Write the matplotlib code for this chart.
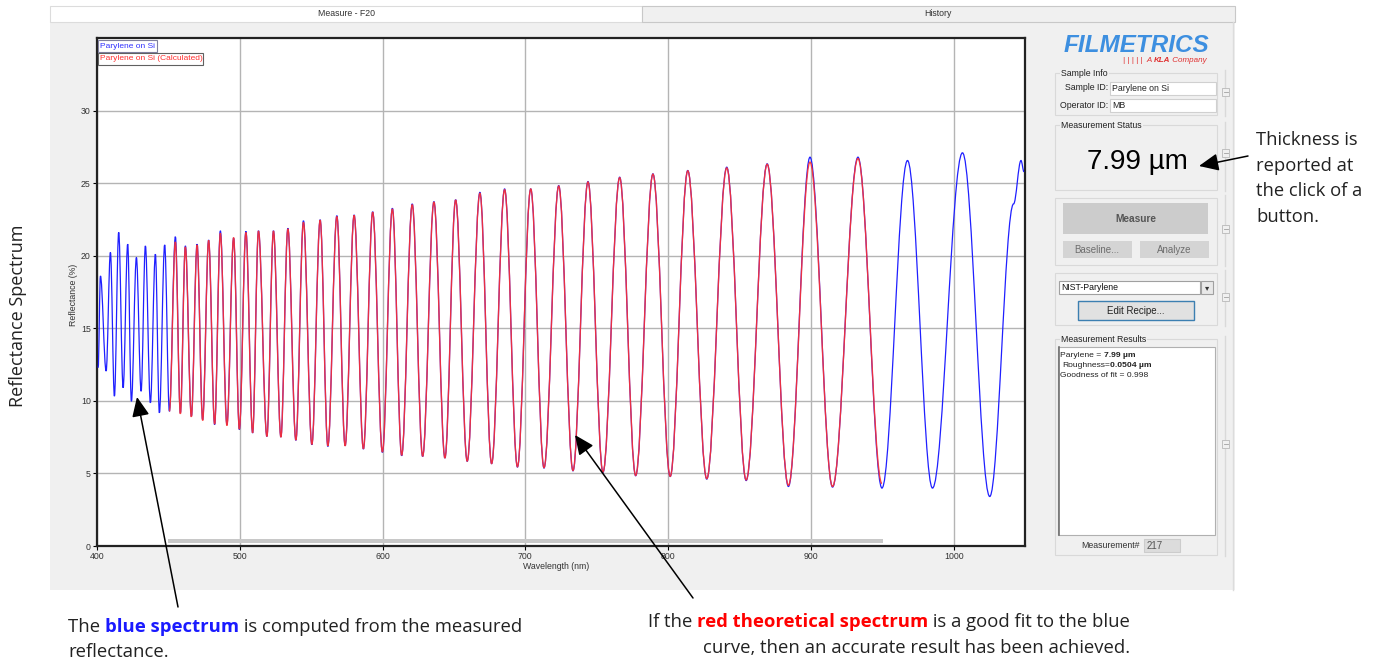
import matplotlib
matplotlib.use('Agg')
import matplotlib.pyplot as plt
from matplotlib.path import Path
from matplotlib.patches import PathPatch, Rectangle, FancyArrowPatch

# measured spectrum (peaks / valleys)
blue_wl = [400.8, 402.4, 406.4, 409.4, 412.2, 415.2, 418.3, 421.5, 424.1, 427.6,
           430.9, 433.9, 437.4, 440.9, 443.7, 447.4, 450.7, 454.9, 458.4, 461.9,
           466.1, 470.1, 474.0, 478.2, 482.4, 486.4, 491.0, 495.7, 499.7, 504.3,
           509.0, 513.1, 519.0, 523.6, 528.8, 533.7, 539.3, 544.6, 550.5, 556.3,
           561.7, 568.0, 573.8, 580.1, 586.6, 593.1, 599.9, 606.9, 613.4, 620.8,
           628.1, 636.0, 643.7, 651.2, 659.3, 668.2, 676.4, 685.5, 694.5, 703.8,
           713.1, 723.4, 733.4, 743.9, 754.4, 766.1, 777.3, 789.4, 801.5, 813.8,
           827.1, 841.1, 854.7, 869.4, 884.3, 899.4, 915.2, 933.0, 949.8, 967.7,
           985.2, 1006.2, 1025.3, 1042.0, 1047.2, 1049.3]
blue_R = [12.28, 18.61, 12.05, 20.23, 10.32, 21.61, 10.90, 20.80, 9.97, 19.88,
          10.66, 20.68, 9.86, 20.11, 9.17, 20.75, 9.28, 21.31, 9.17, 20.68,
          8.94, 20.80, 8.71, 21.08, 8.36, 21.72, 8.36, 21.22, 8.02, 21.68,
          7.79, 21.72, 7.55, 21.72, 7.51, 21.89, 7.28, 22.41, 6.98, 22.48,
          6.86, 22.76, 6.91, 22.81, 6.68, 23.03, 6.45, 23.27, 6.22, 23.57,
          6.17, 23.73, 6.06, 23.86, 5.83, 24.37, 5.67, 24.60, 5.44, 24.60,
          5.37, 24.83, 5.18, 25.11, 5.07, 25.41, 4.84, 25.64, 4.79, 25.87,
          4.61, 26.10, 4.51, 26.33, 4.10, 26.79, 4.06, 26.79, 3.99, 26.56,
          3.99, 27.09, 3.41, 23.57, 26.56, 25.78]

# calculated (fitted) spectrum
red_wl = [450.7, 454.9, 458.4, 461.9, 466.1, 470.1, 474.0, 478.2, 482.4, 486.4,
          491.0, 495.7, 499.7, 504.3, 509.0, 513.1, 519.0, 523.6, 528.8, 533.7,
          539.3, 544.6, 550.5, 556.3, 561.7, 568.0, 573.8, 580.1, 586.6, 593.1,
          599.9, 606.9, 613.4, 620.8, 628.1, 636.0, 643.7, 651.2, 659.3, 668.2,
          676.4, 685.5, 694.5, 703.8, 713.1, 723.4, 733.4, 743.9, 754.4, 766.1,
          777.3, 789.4, 801.5, 813.8, 827.1, 841.1, 854.7, 869.4, 884.3, 899.4,
          915.2, 933.0, 949.8]
red_R = [9.28, 20.95, 9.10, 20.60, 8.90, 20.75, 8.65, 21.05, 8.40, 21.55,
         8.30, 21.25, 8.05, 21.60, 7.80, 21.70, 7.55, 21.70, 7.50, 21.85,
         7.30, 22.30, 7.00, 22.45, 6.90, 22.70, 6.90, 22.78, 6.70, 23.00,
         6.48, 23.22, 6.25, 23.52, 6.18, 23.70, 6.06, 23.84, 5.85, 24.30,
         5.68, 24.55, 5.46, 24.60, 5.40, 24.80, 5.20, 25.08, 5.10, 25.38,
         4.86, 25.62, 4.80, 25.85, 4.64, 26.05, 4.55, 26.30, 4.18, 26.45,
         4.10, 26.70, 4.30]

x_ticks = [400, 500, 600, 700, 800, 900, 1000]
y_ticks = [0, 5, 10, 15, 20, 25, 30]

UI = 'Liberation Sans'
NOTE = 'Open Sans'
W, H = 1377, 660

fig = plt.figure(figsize=(W / 100, H / 100), dpi=100)
fig.patch.set_facecolor('white')
renderer = fig.canvas.get_renderer()


def fx(x):
    return x / W


def fy(y):
    return 1 - y / H


def box(x0, y0, x1, y1, fc='none', ec='none', lw=0.8, z=-5):
    r = Rectangle((fx(x0), fy(y1)), (x1 - x0) / W, (y1 - y0) / H,
                  transform=fig.transFigure, facecolor=fc, edgecolor=ec,
                  linewidth=lw, zorder=z)
    fig.add_artist(r)


def line(x0, y0, x1, y1, color='#dcdcdc', lw=1.0, z=-4):
    fig.add_artist(plt.Line2D([fx(x0), fx(x1)], [fy(y0), fy(y1)],
                              transform=fig.transFigure, color=color, lw=lw, zorder=z))


def label(x, y, s, size=6.3, ha='left', va='center', color='#222', z=6, **kw):
    kw.setdefault('family', UI)
    return fig.text(fx(x), fy(y), s, fontsize=size, ha=ha, va=va, color=color,
                    zorder=z, **kw)


def width_of(s, size, family, **style):
    a = fig.text(0, 0, s + '|', fontsize=size, family=family, **style)
    b = fig.text(0, 0, '|', fontsize=size, family=family, **style)
    w = a.get_window_extent(renderer).width - b.get_window_extent(renderer).width
    a.remove()
    b.remove()
    return w


def rich(x, y, parts, ha='left', size=12.5, family=NOTE, z=8):
    widths = [width_of(s, size, family, **st) for s, st in parts]
    cx = x - sum(widths) if ha == 'right' else x
    for (s, st), w in zip(parts, widths):
        st = dict(st)
        st.setdefault('color', '#222')
        fig.text(fx(cx), fy(y), s, fontsize=size, family=family, va='baseline',
                 zorder=z, **st)
        cx += w


def arrow(x0, y0, x1, y1):
    fig.add_artist(FancyArrowPatch((fx(x0), fy(y0)), (fx(x1), fy(y1)),
                                   transform=fig.transFigure,
                                   arrowstyle='-|>,head_length=0.85,head_width=0.38',
                                   mutation_scale=14, lw=1.1, color='black',
                                   shrinkA=0, shrinkB=0, zorder=10))


def smooth(xs, ys, k=0.36):
    verts = [(xs[0], ys[0])]
    codes = [Path.MOVETO]
    for i in range(1, len(xs)):
        dx = xs[i] - xs[i - 1]
        verts += [(xs[i - 1] + k * dx, ys[i - 1]), (xs[i] - k * dx, ys[i]), (xs[i], ys[i])]
        codes += [Path.CURVE4] * 3
    return Path(verts, codes)


# software window
box(50, 22, 1235, 590, fc='#f0f0f0', z=-10)
box(50, 6, 642, 22, fc='white', ec='#dcdcdc', z=-9)
box(642, 6, 1235, 22, fc='#f0f0f0', ec='#c8c8c8', z=-9)
label(346, 14, 'Measure - F20', size=6.3, ha='center', color='#333')
label(938, 14, 'History', size=6.3, ha='center', color='#333')

# spectrum plot
ax = fig.add_axes([fx(97), fy(546), (1025 - 97) / W, (546 - 38) / H])
ax.set_zorder(1)
ax.set_xlim(400, 1050)
ax.set_ylim(0, 35)
ax.set_xticks(x_ticks)
ax.set_yticks(y_ticks)
ax.grid(True, color='#b4b4b4', lw=1.0)
ax.set_axisbelow(True)
ax.tick_params(labelsize=6.3, length=3, width=0.8, pad=1.5, labelcolor='#333')
for t in ax.get_xticklabels() + ax.get_yticklabels():
    t.set_family(UI)
for sp in ax.spines.values():
    sp.set_linewidth(1.6)
    sp.set_color('#222')
ax.set_xlabel('Wavelength (nm)', fontsize=6.3, family=UI, color='#333')
ax.set_ylabel('Reflectance (%)', fontsize=6.3, family=UI, color='#333')
ax.xaxis.set_label_coords(0.4946, -0.032)
ax.yaxis.set_label_coords(-0.021, 0.494)

ax.add_patch(PathPatch(smooth(blue_wl, blue_R), fill=False, edgecolor='#1f1fff',
                       lw=0.9, zorder=3))
ax.add_patch(PathPatch(smooth(red_wl, red_R), fill=False, edgecolor='#ff3030',
                       lw=1.0, alpha=0.9, zorder=4))
ax.add_patch(Rectangle((0.0765, 0.006), 0.77, 0.008, transform=ax.transAxes,
                       facecolor='#c8c8c8', edgecolor='none', zorder=5))

# legend boxes
box(98, 40, 157, 52, fc='white', ec='#8080a0', lw=0.8, z=6)
label(100, 46, 'Parylene on Si', size=6.0, color='#3030ff', z=7)
box(98, 53, 203, 65, fc='white', ec='#606060', lw=0.8, z=6)
label(100, 59, 'Parylene on Si (Calculated)', size=6.0, color='#ff3030', z=7)

# right control panel
label(1136, 45, 'FILMETRICS', size=17.5, ha='center', color='#3d8fe0',
      fontweight='bold', fontstyle='italic')
rich(1207, 62, [('| | | | |  A ', {'color': '#e03030', 'fontstyle': 'italic'}),
                ('KLA', {'color': '#e03030', 'fontstyle': 'italic', 'fontweight': 'bold'}),
                (' Company', {'color': '#e03030', 'fontstyle': 'italic'})],
     ha='right', size=5.8, family=UI)

group_boxes = [(73, 115), (125, 190), (198, 265), (273, 325), (339, 555)]
for top, bot in group_boxes:
    box(1055, top, 1217, bot, ec='#d9d9d9', z=-4)
    line(1225, top - 3, 1225, bot + 1, color='#d9d9d9')
for hy in [92, 153, 229, 297, 444]:
    box(1222, hy - 4, 1229, hy + 4, fc='#f0f0f0', ec='#b8b8b8', lw=0.6, z=-3)
    line(1223.5, hy, 1227.5, hy, color='#a0a0a0', lw=0.6, z=-2)
line(1233, 22, 1233, 590, color='#dcdcdc')

bg = dict(facecolor='#f0f0f0', edgecolor='none', pad=0.6)
label(1061, 73, 'Sample Info', bbox=bg)
label(1108, 88, 'Sample ID:', ha='right')
box(1110, 82, 1216, 95, fc='white', ec='#d0d0d0', z=-3)
label(1112, 88.5, 'Parylene on Si')
label(1108, 105, 'Operator ID:', ha='right')
box(1110, 99, 1216, 112, fc='white', ec='#d0d0d0', z=-3)
label(1112, 105.5, 'MB')

label(1061, 125, 'Measurement Status', bbox=bg)
label(1137, 162, '7.99 µm', size=20, ha='center', color='black')

box(1063, 203, 1208, 234, fc='#cccccc', z=-3)
label(1136, 219, 'Measure', size=7.3, ha='center', color='#555', fontweight='bold')
box(1063, 241, 1132, 258, fc='#d4d4d4', z=-3)
label(1097, 250, 'Baseline...', size=7, ha='center', color='#6d6d6d')
box(1140, 241, 1209, 258, fc='#d4d4d4', z=-3)
label(1174, 250, 'Analyze', size=7, ha='center', color='#6d6d6d')

box(1059, 281, 1200, 294, fc='white', ec='#a0a0a0', z=-3)
label(1061, 287.5, 'NIST-Parylene', color='#111')
box(1201, 281, 1213, 294, fc='#e8e8e8', ec='#a0a0a0', z=-3)
label(1207, 287.5, '\u25be', size=6, ha='center', family='DejaVu Sans', color='#333')
box(1078, 301, 1194, 320, fc='#e1e1e1', ec='#3c7fb1', lw=1.0, z=-3)
label(1136, 310.5, 'Edit Recipe...', size=7, ha='center', color='#222')

label(1061, 339, 'Measurement Results', bbox=bg)
box(1058, 347, 1215, 535, fc='white', ec='#b0b0b0', z=-3)
line(1058.5, 347, 1058.5, 535, color='#707070', lw=1.2, z=-2)
rich(1060, 357, [('Parylene = ', {}), ('7.99 µm', {'fontweight': 'bold'})],
     size=6.1, family=UI)
rich(1062, 367, [('Roughness=', {}), ('0.0504 µm', {'fontweight': 'bold'})],
     size=6.1, family=UI)
rich(1060, 377, [('Goodness of fit = 0.998', {})], size=6.1, family=UI)
label(1081, 545, 'Measurement#', size=6.3, color='#333')
box(1144, 539, 1180, 552, fc='#dcdcdc', ec='#cccccc', z=-3)
label(1147, 546, '217', size=7, color='#555')

# explanatory notes around the screenshot
label(18, 316, 'Reflectance Spectrum', size=13, ha='center', rotation=90,
      family=NOTE, color='#222')
label(1256, 131, 'Thickness is\nreported at\nthe click of a\nbutton.', size=13.2,
      va='top', family=NOTE, color='#222', linespacing=1.55)
arrow(1248, 156, 1199, 166)

rich(68, 632, [('The ', {}), ('blue spectrum', {'color': '#1a1aff', 'fontweight': 'bold'}),
               (' is computed from the measured', {})], size=13.3)
rich(68, 657, [('reflectance.', {})], size=13.3)
arrow(178, 607, 137, 397)

rich(1130, 627, [('If the ', {}),
                 ('red theoretical spectrum', {'color': '#ff0000', 'fontweight': 'bold'}),
                 (' is a good fit to the blue', {})], ha='right', size=13.3)
rich(1130, 653, [('curve, then an accurate result has been achieved.', {})],
     ha='right', size=13.3)
arrow(693, 598, 575, 435)

fig.savefig('out.png', dpi=100, facecolor='white')
